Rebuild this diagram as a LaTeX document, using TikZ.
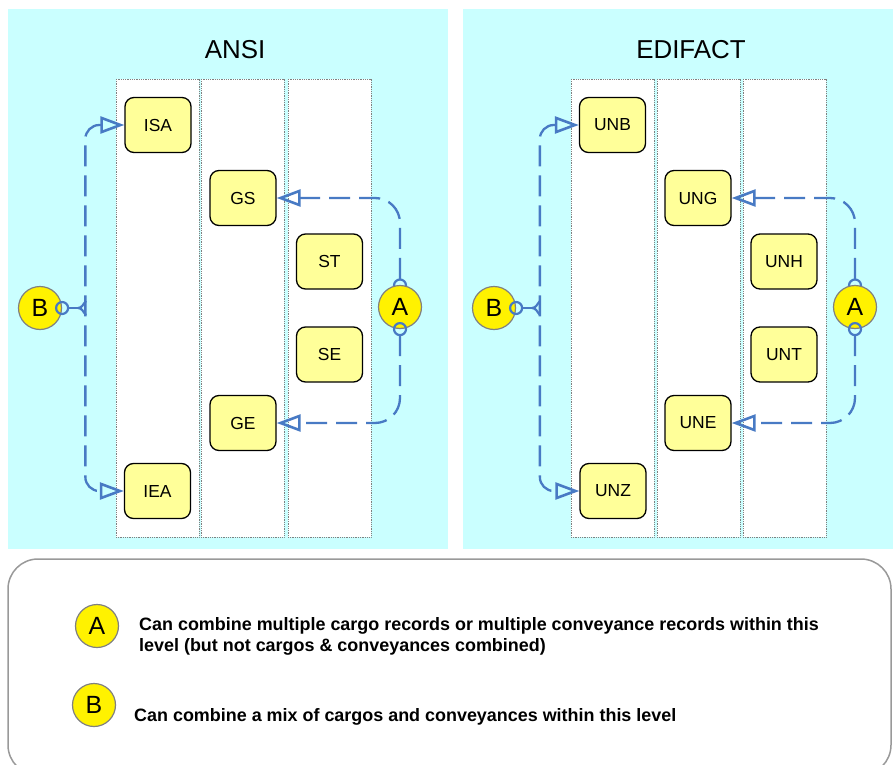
\documentclass[tikz,border=0pt]{standalone}
\usepackage{fontspec}
\setmainfont{Liberation Sans}
\usetikzlibrary{arrows.meta,calc}
\definecolor{panelcyan}{RGB}{202,255,255}
\definecolor{segyellow}{RGB}{255,255,153}
\definecolor{linkblue}{RGB}{72,122,196}
\tikzset{
	panel/.style={fill=panelcyan, draw=none},
	lane/.style={draw=gray, densely dotted, line width=0.8bp, fill=white},
	seg/.style={draw=black, line width=1.3bp, fill=segyellow, rounded corners=9bp,
			minimum width=66bp, minimum height=55bp, inner sep=0pt,
			font=\fontsize{17.5}{20}\selectfont},
	letterdot/.style={circle, draw=gray, line width=1.2bp, fill=yellow,
			minimum size=43bp, inner sep=0pt, font=\fontsize{25}{28}\selectfont},
	link/.style={draw=linkblue, line width=2.3bp, dash pattern=on 21bp off 9bp},
	ring/.style={draw=linkblue, line width=2.2bp},
	openhead/.style={-{Triangle[open, length=24bp, width=17bp, line width=2.6bp]}},
	openheads/.style={{Triangle[open, length=24bp, width=17bp, line width=2.6bp]}-{Triangle[open, length=24bp, width=17bp, line width=2.6bp]}},
	note/.style={inner sep=0pt, align=left, font=\fontsize{18}{21}\selectfont\bfseries}
}
\begin{document}
\begin{tikzpicture}[x=1bp, y=-1bp]
	\useasboundingbox (0,0) rectangle (893,765);
	\clip (0,0) rectangle (893,765);

	\fill[panel] (8,9) rectangle (448,549);
	\fill[panel] (463,9) rectangle (893,549);
	\node[font=\fontsize{26}{30}\selectfont] (ansi) at (235,50) {ANSI};
	\node[font=\fontsize{26}{30}\selectfont] (edifact) at (691,50) {EDIFACT};

	\foreach \x in {116,201,288,571,657,743}
		\draw[lane] (\x,79) rectangle ++(83,458);

	\node[seg] (isa) at (158,125) {ISA};
	\node[seg] (gs) at (243,198) {GS};
	\node[seg] (st) at (329.5,261.5) {ST};
	\node[seg] (se) at (329.5,354.5) {SE};
	\node[seg] (ge) at (243,423) {GE};
	\node[seg] (iea) at (157.5,491) {IEA};

	\node[seg] (unb) at (612.5,125) {UNB};
	\node[seg] (ung) at (698,198) {UNG};
	\node[seg] (unh) at (784,261.5) {UNH};
	\node[seg] (unt) at (784,354.5) {UNT};
	\node[seg] (une) at (698,423) {UNE};
	\node[seg] (unz) at (613,491) {UNZ};

	% ANSI
	\coordinate (ansia) at (400,307);
	\draw[ring] ($(ansia)+(0,-21.5)$) circle[radius=6bp];
	\node[letterdot] (ansiA) at (ansia) {A};
	\draw[ring] (ansiA.south) circle[radius=6bp];
	\draw[link, openhead, rounded corners=25bp] ($(ansiA.north)+(0,-6)$) |- (gs.east);
	\draw[link, openhead, rounded corners=25bp] ($(ansiA.south)+(0,6)$) |- (ge.east);

	\node[letterdot] (ansiB) at (40,308) {B};
	\draw[ring] (ansiB.east) circle[radius=6bp];
	\draw[link, openheads, rounded corners=14bp] (isa.west) -- ++(-39,0) |- (iea.west);
	\coordinate (ansifork) at ($(ansiB.east)+(16,0)$);
	\coordinate (ansiup) at (86,301);
	\coordinate (ansidown) at (86,315);
	\draw[ring] ($(ansiB.east)+(6,0)$) -- (ansifork);
	\draw[ring] (ansifork) to[out=0, in=-135] (ansiup);
	\draw[ring] (ansifork) to[out=0, in=135] (ansidown);

	% EDIFACT
	\coordinate (edia) at (855,307);
	\draw[ring] ($(edia)+(0,-21.5)$) circle[radius=6bp];
	\node[letterdot] (ediA) at (edia) {A};
	\draw[ring] (ediA.south) circle[radius=6bp];
	\draw[link, openhead, rounded corners=25bp] ($(ediA.north)+(0,-6)$) |- (ung.east);
	\draw[link, openhead, rounded corners=25bp] ($(ediA.south)+(0,6)$) |- (une.east);

	\node[letterdot] (ediB) at (494,308) {B};
	\draw[ring] (ediB.east) circle[radius=6bp];
	\draw[link, openheads, rounded corners=14bp] (unb.west) -- ++(-39,0) |- (unz.west);
	\coordinate (edifork) at ($(ediB.east)+(16,0)$);
	\coordinate (ediup) at (540,301);
	\coordinate (edidown) at (540,315);
	\draw[ring] ($(ediB.east)+(6,0)$) -- (edifork);
	\draw[ring] (edifork) to[out=0, in=-135] (ediup);
	\draw[ring] (edifork) to[out=0, in=135] (edidown);

	% legend
	\draw[draw=gray!80, line width=1.5bp, rounded corners=30bp] (8,559) rectangle (891,775);
	\node[letterdot] (keyA) at (97,626) {A};
	\node[note, anchor=west] (noteA) at (139,636)
		{Can combine multiple cargo records or multiple conveyance records within this\\
		level (but not cargos \& conveyances combined)};
	\node[letterdot] (keyB) at (94,705) {B};
	\node[note, anchor=base west] (noteB) at (134,721)
		{Can combine a mix of cargos and conveyances within this level};
\end{tikzpicture}
\end{document}
